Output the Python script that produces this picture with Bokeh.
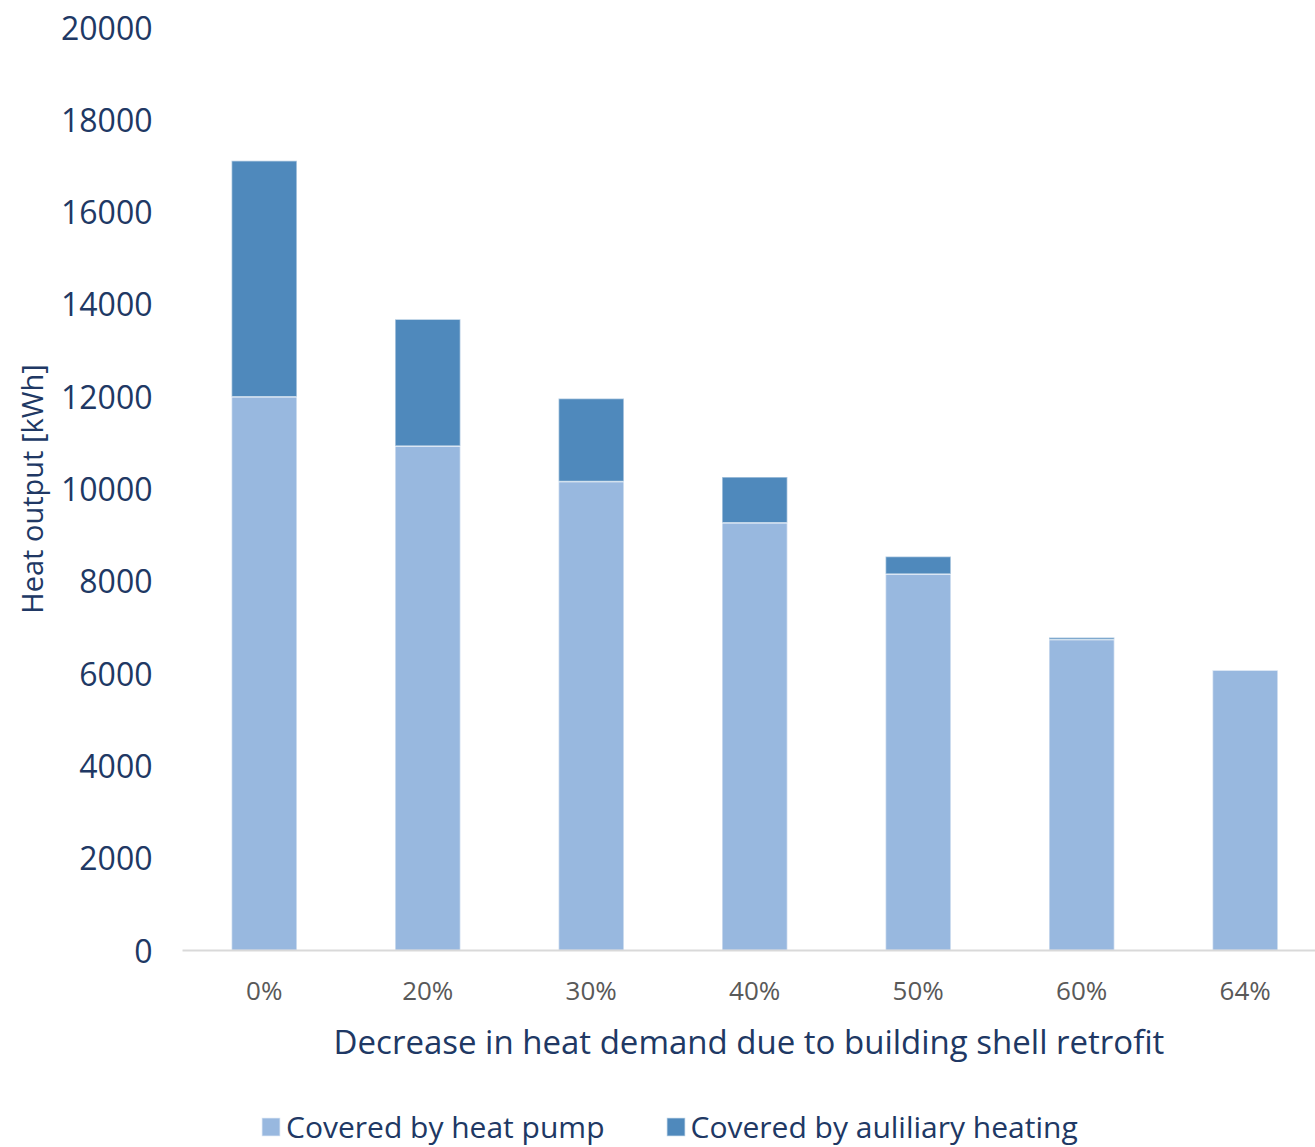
from bokeh.plotting import figure
from bokeh.layouts import column
from bokeh.models import ColumnDataSource, Range1d, FixedTicker, Legend
from bokeh.embed import file_html
from bokeh.resources import INLINE

# Heat output per retrofit level [kWh]
categories = ["0%", "20%", "30%", "40%", "50%", "60%", "64%"]
heat_pump = [12000, 10930, 10160, 9270, 8160, 6740, 6080]
auxiliary = [5110, 2750, 1800, 990, 380, 40, 0]
y_ticks = [0, 2000, 4000, 6000, 8000, 10000, 12000, 14000, 16000, 18000, 20000]

series_names = ["Covered by heat pump", "Covered by auliliary heating"]
series_colors = ["#98B8DF", "#4F89BC"]

NAVY = "#203864"
GREY = "#595959"
FONT = "Open Sans"

positions = list(range(len(categories)))
source = ColumnDataSource(dict(x=positions, heat_pump=heat_pump, auxiliary=auxiliary))
bar_style = dict(width=0.4, color=series_colors, line_color="white", line_alpha=0.55, line_width=1.5)

p = figure(
    width=1315, height=1097,
    x_range=Range1d(-0.5, len(categories) - 0.57),
    y_range=Range1d(0, 20000),
    output_backend="svg", toolbar_location=None,
    min_border_left=182, min_border_right=0,
    min_border_top=27, min_border_bottom=147,
)
p.outline_line_color = None
p.xgrid.grid_line_color = None
p.ygrid.grid_line_color = None

p.vbar_stack(["heat_pump", "auxiliary"], x="x", source=source, **bar_style)

# y axis
p.yaxis.ticker = FixedTicker(ticks=y_ticks)
p.yaxis.axis_line_color = None
p.yaxis.major_tick_line_color = None
p.yaxis.minor_tick_line_color = None
p.yaxis.major_label_standoff = 24
p.yaxis.major_label_text_font = FONT
p.yaxis.major_label_text_font_size = "32px"
p.yaxis.major_label_text_color = NAVY
p.yaxis.axis_label = "Heat output [kWh]"
p.yaxis.axis_label_text_font = FONT
p.yaxis.axis_label_text_font_style = "normal"
p.yaxis.axis_label_text_font_size = "29px"
p.yaxis.axis_label_text_color = NAVY
p.yaxis.axis_label_standoff = 7

# x axis
p.xaxis.ticker = FixedTicker(ticks=positions)
p.xaxis.major_label_overrides = {i: c for i, c in zip(positions, categories)}
p.xaxis.axis_line_color = "#D9D9D9"
p.xaxis.axis_line_width = 2
p.xaxis.major_tick_line_color = None
p.xaxis.minor_tick_line_color = None
p.xaxis.major_label_standoff = 15
p.xaxis.major_label_text_font = FONT
p.xaxis.major_label_text_font_size = "26px"
p.xaxis.major_label_text_color = GREY
p.xaxis.axis_label = "Decrease in heat demand due to building shell retrofit"
p.xaxis.axis_label_text_font = FONT
p.xaxis.axis_label_text_font_style = "normal"
p.xaxis.axis_label_text_font_size = "33px"
p.xaxis.axis_label_text_color = NAVY
p.xaxis.axis_label_standoff = 8

# legend strip underneath the chart; its bars lie outside the visible range,
# only the legend swatches show
leg = figure(
    width=1315, height=50,
    x_range=Range1d(-100, -99), y_range=Range1d(0, 1),
    x_axis_type=None, y_axis_type=None,
    output_backend="svg", toolbar_location=None,
    min_border=0,
)
leg.outline_line_color = None
leg.xgrid.grid_line_color = None
leg.ygrid.grid_line_color = None
swatches = leg.vbar_stack(["heat_pump", "auxiliary"], x="x", source=source, **bar_style)

legend = Legend(
    items=[(name, [r]) for name, r in zip(series_names, swatches)],
    orientation="horizontal",
    location=(77, 0),
    border_line_color=None,
    background_fill_alpha=0,
    glyph_width=23, glyph_height=23,
    label_text_font=FONT,
    label_text_font_size="30px",
    label_text_color=NAVY,
    label_standoff=4,
    spacing=59,
    margin=0,
    padding=0,
)
leg.add_layout(legend, "center")

open("out.html", "w").write(file_html(column(p, leg, spacing=0), INLINE))
